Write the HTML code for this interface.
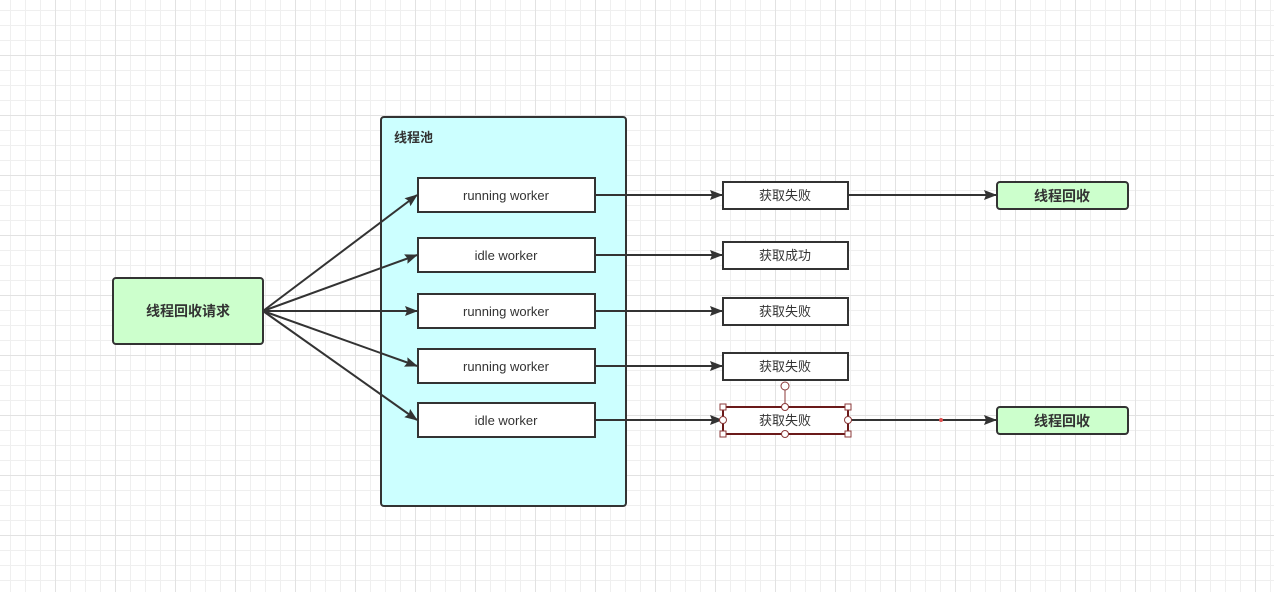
<!DOCTYPE html>
<html><head><meta charset="utf-8"><style>
html,body{margin:0;padding:0;}
body{width:1274px;height:592px;overflow:hidden;background-color:#fff;
background-image:
linear-gradient(#e2e2e2 1px,transparent 1px),
linear-gradient(90deg,#e2e2e2 1px,transparent 1px),
linear-gradient(#efefef 1px,transparent 1px),
linear-gradient(90deg,#efefef 1px,transparent 1px);
background-size:60px 60px,60px 60px,15px 15px,15px 15px;
background-position:0 55px,55px 0,0 10px,10px 0;}
svg{position:absolute;left:0;top:0;}
text{font-family:"Liberation Sans","Noto Sans CJK SC",sans-serif;fill:#333;}
</style></head><body>
<svg width="1274" height="592" viewBox="0 0 1274 592">
<defs><marker id="a" markerWidth="13" markerHeight="10" refX="12" refY="5" orient="auto" markerUnits="userSpaceOnUse"><path d="M0,0 L13,5 L0,10 L2,5 Z" fill="#333"/></marker></defs>
<rect x="381" y="117" width="245" height="389" rx="3" fill="#ccffff" stroke="#333" stroke-width="2"/>
<text x="394" y="142" font-size="13" font-weight="bold">线程池</text>
<rect x="113" y="278" width="150" height="66" rx="3" fill="#ccffcc" stroke="#333" stroke-width="2"/>
<text x="188" y="316" font-size="14" font-weight="bold" text-anchor="middle">线程回收请求</text>
<g stroke="#333" stroke-width="2" fill="none" marker-end="url(#a)">
<line x1="263" y1="311" x2="417" y2="195"/>
<line x1="263" y1="311" x2="417" y2="255"/>
<line x1="263" y1="311" x2="417" y2="311"/>
<line x1="263" y1="311" x2="417" y2="366"/>
<line x1="263" y1="311" x2="417" y2="420"/>
<line x1="595" y1="195" x2="722" y2="195"/>
<line x1="595" y1="255" x2="722" y2="255"/>
<line x1="595" y1="311" x2="722" y2="311"/>
<line x1="595" y1="366" x2="722" y2="366"/>
<line x1="595" y1="420" x2="722" y2="420"/>
<line x1="848" y1="195" x2="996" y2="195"/>
<line x1="848" y1="420" x2="996" y2="420"/>
</g>
<g fill="#fff" stroke="#333" stroke-width="2">
<rect x="418" y="178" width="177" height="34"/>
<rect x="418" y="238" width="177" height="34"/>
<rect x="418" y="294" width="177" height="34"/>
<rect x="418" y="349" width="177" height="34"/>
<rect x="418" y="403" width="177" height="34"/>
<rect x="723" y="182" width="125" height="27"/>
<rect x="723" y="242" width="125" height="27"/>
<rect x="723" y="298" width="125" height="27"/>
<rect x="723" y="353" width="125" height="27"/>
<rect x="723" y="407" width="125" height="27" stroke="#6b1a1a"/>
</g>
<g font-size="13" text-anchor="middle">
<text x="506" y="200">running worker</text>
<text x="506" y="260">idle worker</text>
<text x="506" y="316">running worker</text>
<text x="506" y="371">running worker</text>
<text x="506" y="425">idle worker</text>
<text x="785" y="200">获取失败</text>
<text x="785" y="260">获取成功</text>
<text x="785" y="316">获取失败</text>
<text x="785" y="371">获取失败</text>
<text x="785" y="425">获取失败</text>
</g>
<g fill="#ccffcc" stroke="#333" stroke-width="2">
<rect x="997" y="182" width="131" height="27" rx="3"/>
<rect x="997" y="407" width="131" height="27" rx="3"/>
</g>
<g font-size="14" font-weight="bold" text-anchor="middle">
<text x="1062" y="201">线程回收</text>
<text x="1062" y="426">线程回收</text>
</g>
<g fill="#fff" stroke="#8b3a3a" stroke-width="1">
<line x1="785" y1="390" x2="785" y2="407"/>
<circle cx="785" cy="386" r="4"/>
<circle cx="785" cy="407" r="3.5"/>
<circle cx="785" cy="434" r="3.5"/>
<circle cx="723" cy="420" r="3.5"/>
<circle cx="848" cy="420" r="3.5"/>
<rect x="720" y="404" width="6" height="6"/>
<rect x="845" y="404" width="6" height="6"/>
<rect x="720" y="431" width="6" height="6"/>
<rect x="845" y="431" width="6" height="6"/>
</g>
<circle cx="941" cy="420" r="2" fill="#e05050"/>
</svg>
</body></html>
